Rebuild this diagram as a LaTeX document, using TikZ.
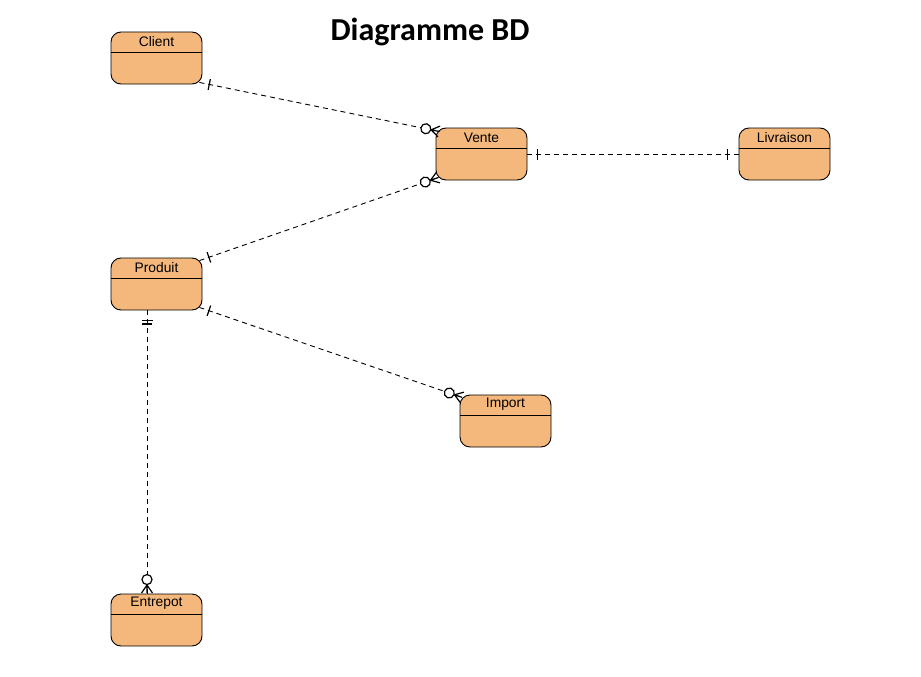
\documentclass[tikz,border=0pt]{standalone}
\usepackage{fontspec}
\setmainfont{Liberation Sans}
\newfontfamily\titlefont{Carlito}
\usetikzlibrary{calc,decorations.markings}
\definecolor{entfill}{HTML}{F4B77C}
\tikzset{
  entity/.style={draw=black, line width=0.9pt, fill=entfill, rounded corners=10pt,
    minimum width=91pt, minimum height=52pt, inner sep=0pt,
    path picture={\draw[line width=0.9pt] ([yshift=-20pt]path picture bounding box.north west) -- ([yshift=-20pt]path picture bounding box.north east);},
    label={[font=\fontsize{13.8}{16}\selectfont, anchor=center, yshift=-10pt]north:#1}},
  rel/.style={line width=0.9pt, dash pattern=on 5pt off 4pt},
  mk/.style={solid, line width=1.2pt},
  onestart/.style={postaction={decorate, decoration={markings,
    mark=at position 10pt with {\draw[mk] (0,-5.5pt) -- (0,5.5pt);}}}},
  oneend/.style={postaction={decorate, decoration={markings,
    mark=at position -11pt with {\draw[mk] (0,-5.5pt) -- (0,5.5pt);}}}},
  twostart/.style={postaction={decorate, decoration={markings,
    mark=at position 10pt with {\draw[mk] (0,-5.5pt) -- (0,5.5pt) (3.5pt,-5pt) -- (3.5pt,5pt);}}}},
  manyend/.style={postaction={decorate, decoration={markings,
    mark=at position -0.5pt with {\draw[mk] (-8pt,0) -- (0,5.5pt) (-8pt,0) -- (0,-5.5pt) (-8pt,0) -- (0,0);
      \draw[mk, fill=white] (-13.5pt,0) circle (5pt);}}}}
}
\begin{document}
\begin{tikzpicture}[x=1pt, y=-1pt]
\useasboundingbox (0,0) rectangle (921,677);
\node[font=\titlefont\bfseries\fontsize{32}{38}\selectfont] (title) at (430,32) {Diagramme BD};
\node[entity=Client] (client) at (156.5,58) {};
\node[entity=Vente] (vente) at (481.5,154) {};
\node[entity=Livraison] (livraison) at (784.5,154) {};
\node[entity=Produit] (produit) at (156.5,284) {};
\node[entity=Import] (import) at (505.5,421) {};
\node[entity=Entrepot] (entrepot) at (156.5,620) {};
\coordinate (c1) at ($(client.south east)+(-3pt,2pt)$);
\coordinate (v1) at ($(vente.north west)+(4pt,-4pt)$);
\coordinate (v2) at ($(vente.south west)+(3pt,3pt)$);
\coordinate (p1) at ($(produit.north east)+(-3pt,-3pt)$);
\coordinate (p2) at ($(produit.south east)+(-3pt,3pt)$);
\coordinate (i1) at ($(import.north west)+(3pt,-3pt)$);
\coordinate (p3) at ($(produit.south)+(-9.5pt,0)$);
\coordinate (e1) at ($(entrepot.north)+(-9.5pt,0)$);
\draw[rel, onestart, manyend] (c1) -- (v1);
\draw[rel, onestart, oneend] (vente.east) -- (livraison.west);
\draw[rel, onestart, manyend] (p1) -- (v2);
\draw[rel, onestart, manyend] (p2) -- (i1);
\draw[rel, twostart, manyend] (p3) -- (e1);
\end{tikzpicture}
\end{document}
